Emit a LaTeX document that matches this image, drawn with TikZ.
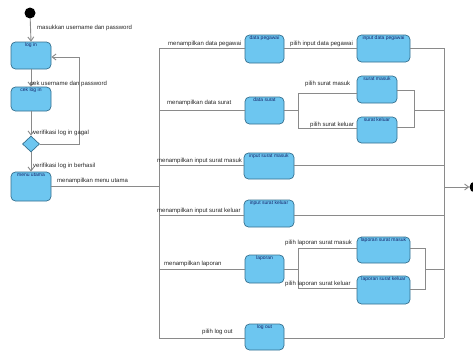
\documentclass[tikz,border=0pt]{standalone}
\usepackage{fontspec}
\setmainfont{Liberation Sans}
\usetikzlibrary{arrows.meta,shapes.geometric}
\definecolor{boxfill}{HTML}{6DC6F0}
\definecolor{boxline}{HTML}{35708F}
\definecolor{boxtext}{HTML}{16246A}
\definecolor{wire}{HTML}{8A8A8A}
\begin{document}
\begin{tikzpicture}[x=1pt,y=-1pt,
  st/.style 2 args={draw=boxline, fill=boxfill, rounded corners=4.5pt, line width=0.7pt,
     minimum width=#1pt, inner xsep=1pt, inner ysep=1.2pt, text height=3.6pt,
     text depth={#2pt-6pt}, font=\fontsize{5}{5.5}\selectfont, text=boxtext, anchor=center},
  lb/.style={font=\fontsize{6}{7}\selectfont, inner sep=0pt, anchor=base west, text=black!85},
  wr/.style={draw=wire, line width=0.9pt},
  ar/.style={wr, -{Straight Barb[length=4pt,width=6pt]}},
  dot/.style={circle, fill=black, inner sep=0pt, minimum size=11pt}]
\useasboundingbox (0,0) rectangle (473,351);
\clip (0,0) rectangle (473,351);
\fill[white] (0,0) rectangle (473,351);

% left column
\node[dot] (start) at (30,13) {};
\node[st={40}{27}] (login) at (31,55.5) {log in};
\node[st={40}{24}] (cek) at (31,99) {cek log in};
\node[draw=boxline, fill=boxfill, line width=0.7pt, diamond, minimum width=17pt, minimum height=16pt, inner sep=0pt, shape aspect=1] (dec) at (31,144) {};
\node[st={40}{29}] (menu) at (31,186.5) {menu utama};
\coordinate (loopA) at (79,144);
\coordinate (loopB) at (79,57);

\draw[ar] (start) -- (login.north);
\draw[ar] (login.south) -- (cek.north);
\draw[ar] (cek.south) -- (dec.north);
\draw[ar] (dec.east) -- (loopA) -- (loopB) -- (login.east |- loopB);
\draw[ar] (dec.south) -- (menu.north);
\node[lb] (l1) at (37,29.5) {masukkan username dan password};
\node[lb] (l2) at (30,85.5) {cek username dan password};
\node[lb] (l3) at (33,134) {verifikasi log in gagal};
\node[lb] (l4) at (33,167) {verifikasi log in berhasil};
\node[lb] (l5) at (57,182.5) {menampilkan menu utama};

% fork / join bars
\coordinate (forkT) at (159,48);
\coordinate (forkB) at (159,338);
\coordinate (joinT) at (444,48);
\coordinate (joinB) at (444,338);
\draw[wr] (forkT) -- (forkB);
\draw[wr] (joinT) -- (joinB);
\draw[wr] (menu.east |- 0,186) -- (159,186);

% boxes
\node[st={39}{28}] (dpeg) at (264.5,49) {data pegawai};
\node[st={53}{27}] (ipeg) at (383.5,48.5) {input data pegawai};
\node[st={39}{27}] (dsur) at (264.5,110.5) {data surat};
\node[st={40}{27}] (smas) at (377,89.5) {surat masuk};
\node[st={40}{26}] (skel) at (377,130) {surat keluar};
\node[st={50}{26}] (ismas) at (269,166) {input surat masuk};
\node[st={50}{27}] (iskel) at (269,213.5) {input surat keluar};
\node[st={39}{28}] (lap) at (264.5,269) {laporan};
\node[st={53}{26}] (lmas) at (383.5,250) {laporan surat masuk};
\node[st={53}{28}] (lkel) at (383.5,290) {laporan surat keluar};
\node[st={39}{26}] (lout) at (264.5,337) {log out};

% row 1
\draw[wr] (forkT) -- (dpeg.west |- forkT);
\draw[wr] (dpeg.east |- forkT) -- (ipeg.west |- forkT);
\draw[wr] (ipeg.east |- forkT) -- (joinT);
\node[lb] (r1a) at (168,45.5) {menampilkan data pegawai};
\node[lb] (r1b) at (290,45.5) {pilih input data pegawai};

% row 2
\coordinate (b2t) at (298,93);
\coordinate (b2b) at (298,128);
\coordinate (m2t) at (414,90);
\coordinate (m2b) at (414,127);
\draw[wr] (159,110) -- (dsur.west |- 0,110);
\draw[wr] (dsur.east |- 0,110) -- (298,110);
\draw[wr] (b2t) -- (b2b);
\draw[wr] (b2t) -- (smas.west |- b2t);
\draw[wr] (b2b) -- (skel.west |- b2b);
\draw[wr] (smas.east |- m2t) -- (m2t) -- (m2b) -- (skel.east |- m2b);
\draw[wr] (414,110) -- (444,110);
\node[lb] (r2a) at (167,104.5) {menampilkan data surat};
\node[lb] (r2b) at (305,85.5) {pilih surat masuk};
\node[lb] (r2c) at (310,126) {pilih surat keluar};

% row 3
\draw[wr] (159,165) -- (ismas.west |- 0,165);
\draw[wr] (ismas.east |- 0,165) -- (444,165);
\node[lb] (r3a) at (157,162.5) {menampilkan input surat masuk};

% row 4
\draw[wr] (159,215) -- (iskel.west |- 0,215);
\draw[wr] (iskel.east |- 0,215) -- (444,215);
\node[lb] (r4a) at (157,212.5) {menampilkan input surat keluar};

% row 5
\coordinate (b5t) at (298,248);
\coordinate (b5b) at (298,288);
\coordinate (m5t) at (425,248);
\coordinate (m5b) at (425,289);
\draw[wr] (159,269) -- (lap.west |- 0,269);
\draw[wr] (lap.east |- 0,269) -- (298,269);
\draw[wr] (b5t) -- (b5b);
\draw[wr] (b5t) -- (lmas.west |- b5t);
\draw[wr] (b5b) -- (lkel.west |- b5b);
\draw[wr] (lmas.east |- m5t) -- (m5t) -- (m5b) -- (lkel.east |- m5b);
\draw[wr] (425,269) -- (444,269);
\node[lb] (r5a) at (164,265.5) {menampilkan laporan};
\node[lb] (r5b) at (285,244.5) {pilih laporan surat masuk};
\node[lb] (r5c) at (285,285.5) {pilih laporan surat keluar};

% row 6
\draw[wr] (forkB) -- (lout.west |- forkB);
\draw[wr] (lout.east |- forkB) -- (joinB);
\node[lb] (r6a) at (202,333.5) {pilih log out};

% final
\node[dot] (final) at (475,187) {};
\draw[ar] (444,187) -- (final.west);
\end{tikzpicture}
\end{document}
